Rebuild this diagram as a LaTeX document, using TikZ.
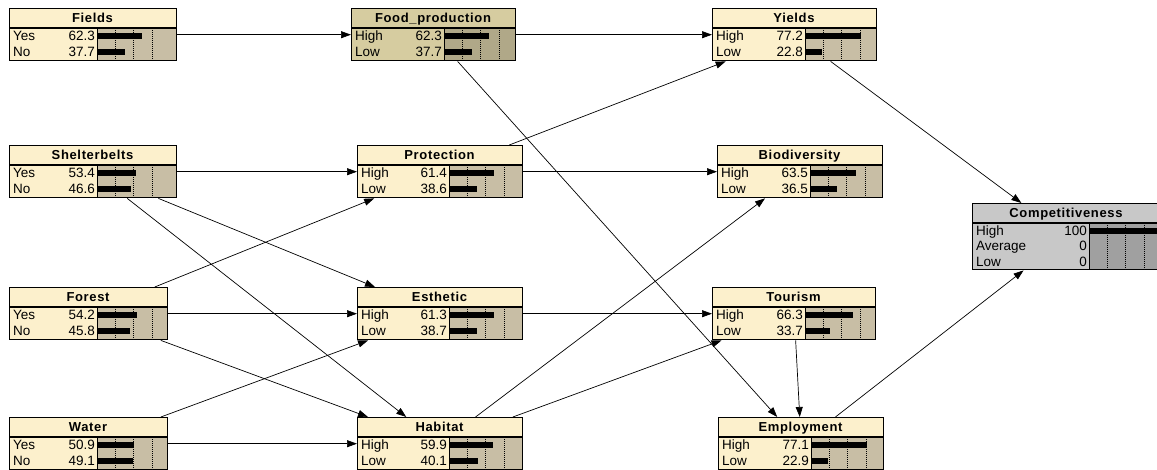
\documentclass[tikz,border=0pt]{standalone}
\usepackage{fontspec}
\setmainfont{Liberation Sans}
\newfontfamily\ttlfont{Liberation Sans}[LetterSpace=5]
\usetikzlibrary{arrows.meta}
\definecolor{stdT}{RGB}{252,240,204}
\definecolor{stdB}{RGB}{200,190,165}
\definecolor{fpT}{RGB}{214,204,160}
\definecolor{fpB}{RGB}{176,168,136}
\definecolor{cmT}{RGB}{200,200,200}
\definecolor{cmB}{RGB}{160,160,160}
\tikzset{
 boxframe/.style={draw=black, line width=1.4pt, inner sep=0pt, fill=none},
 ttl/.style={font=\ttlfont\bfseries\fontsize{13}{13}\selectfont, anchor=base, inner sep=0pt},
 st/.style={font=\fontsize{13.5}{13.5}\selectfont, anchor=base west, inner sep=0pt},
 sv/.style={font=\fontsize{13.5}{13.5}\selectfont, anchor=base east, inner sep=0pt},
 gridline/.style={line width=0.6pt, dash pattern=on 1pt off 1pt},
 barfill/.style={fill=black},
 link/.style={line width=0.7pt, -{Triangle[length=10pt,width=7pt]}},
}
\def\nbT{stdT}\def\nbB{stdB}
% name, L, T, R, B, S, title, states
\newcommand\netbox[8]{%
  \pgfmathsetmacro\nbM{#3+20}%
  \pgfmathsetmacro\nbW{#4-#2}%
  \pgfmathsetmacro\nbHt{#5-#3}%
  \fill[\nbT] (#2,#3) rectangle (#4,#5);
  \fill[\nbB] (#6,\nbM) rectangle (#4,#5);
  \foreach \k in {1,2,3} \draw[gridline] ({#6+18.3*\k},\nbM) -- ({#6+18.3*\k},#5);
  \foreach \sl/\sv [count=\n] in {#8} {\xdef\nbN{\n}}
  \pgfmathsetmacro\nbH{(#5-\nbM)/\nbN}%
  \foreach \sl/\sv [count=\i] in {#8} {
    \pgfmathsetmacro\yc{\nbM+(\i-0.5)*\nbH}
    \pgfmathsetmacro\xe{min(#6+0.73*\sv,#4)}
    \node[st] (#1-l\i) at (#2+4,\yc+4.8) {\sl};
    \node[sv] (#1-v\i) at (#6-2,\yc+4.8) {\sv};
    \fill[barfill] (#6,\yc-3) rectangle (\xe,\yc+3);
  }
  \draw[line width=1.4pt] (#2,\nbM) -- (#4,\nbM);
  \draw[line width=0.8pt] (#6,\nbM) -- (#6,#5);
  \node[ttl] (#1-t) at ({(#2+#4)/2},#3+14.6) {#7};
  \node[boxframe, minimum width=\nbW pt, minimum height=\nbHt pt, anchor=north west] (#1) at (#2,#3) {};
}
\begin{document}
\begin{tikzpicture}[x=1pt,y=-1pt]
\useasboundingbox (0,0) rectangle (1157,470);
\clip (0,0) rectangle (1157,470);
\fill[white] (0,0) rectangle (1157,470);
% column 1
\netbox{fields}{9}{8}{176}{60}{97}{Fields}{Yes/62.3,No/37.7}
\netbox{shelter}{9}{145}{176}{197}{97}{Shelterbelts}{Yes/53.4,No/46.6}
\netbox{forest}{9}{287}{167}{339}{97}{Forest}{Yes/54.2,No/45.8}
\netbox{water}{9}{417}{167}{469}{97}{Water}{Yes/50.9,No/49.1}
% column 2
\def\nbT{fpT}\def\nbB{fpB}
\netbox{food}{351}{8}{515}{60}{444}{Food\_production}{High/62.3,Low/37.7}
\def\nbT{stdT}\def\nbB{stdB}
\netbox{protect}{357}{145}{522}{197}{449}{Protection}{High/61.4,Low/38.6}
\netbox{esthetic}{357}{287}{522}{339}{449}{Esthetic}{High/61.3,Low/38.7}
\netbox{habitat}{357}{417}{522}{469}{449}{Habitat}{High/59.9,Low/40.1}
% column 3
\netbox{yields}{712}{8}{876}{60}{805}{Yields}{High/77.2,Low/22.8}
\netbox{biodiv}{717}{145}{882}{197}{810}{Biodiversity}{High/63.5,Low/36.5}
\netbox{tourism}{712}{287}{875}{339}{805}{Tourism}{High/66.3,Low/33.7}
\netbox{employ}{718}{417}{883}{469}{811}{Employment}{High/77.1,Low/22.9}
% column 4
\def\nbT{cmT}\def\nbB{cmB}
\netbox{compet}{972}{203}{1160}{269}{1089}{Competitiveness}{High/100,Average/0,Low/0}
% links
\draw[link] (fields) -- (food);
\draw[link] (food) -- (yields);
\draw[link] (food) -- (employ);
\draw[link] (yields) -- (compet);
\draw[link] (shelter) -- (protect);
\draw[link] (shelter) -- (esthetic);
\draw[link] (shelter) -- (habitat);
\draw[link] (protect) -- (yields);
\draw[link] (protect) -- (biodiv);
\draw[link] (forest) -- (protect);
\draw[link] (forest) -- (esthetic);
\draw[link] (forest) -- (habitat);
\draw[link] (water) -- (esthetic);
\draw[link] (water) -- (habitat);
\draw[link] (esthetic) -- (tourism);
\draw[link] (habitat) -- (biodiv);
\draw[link] (habitat) -- (tourism);
\draw[link] (tourism) -- (employ);
\draw[link] (employ) -- (compet);
\end{tikzpicture}
\end{document}
